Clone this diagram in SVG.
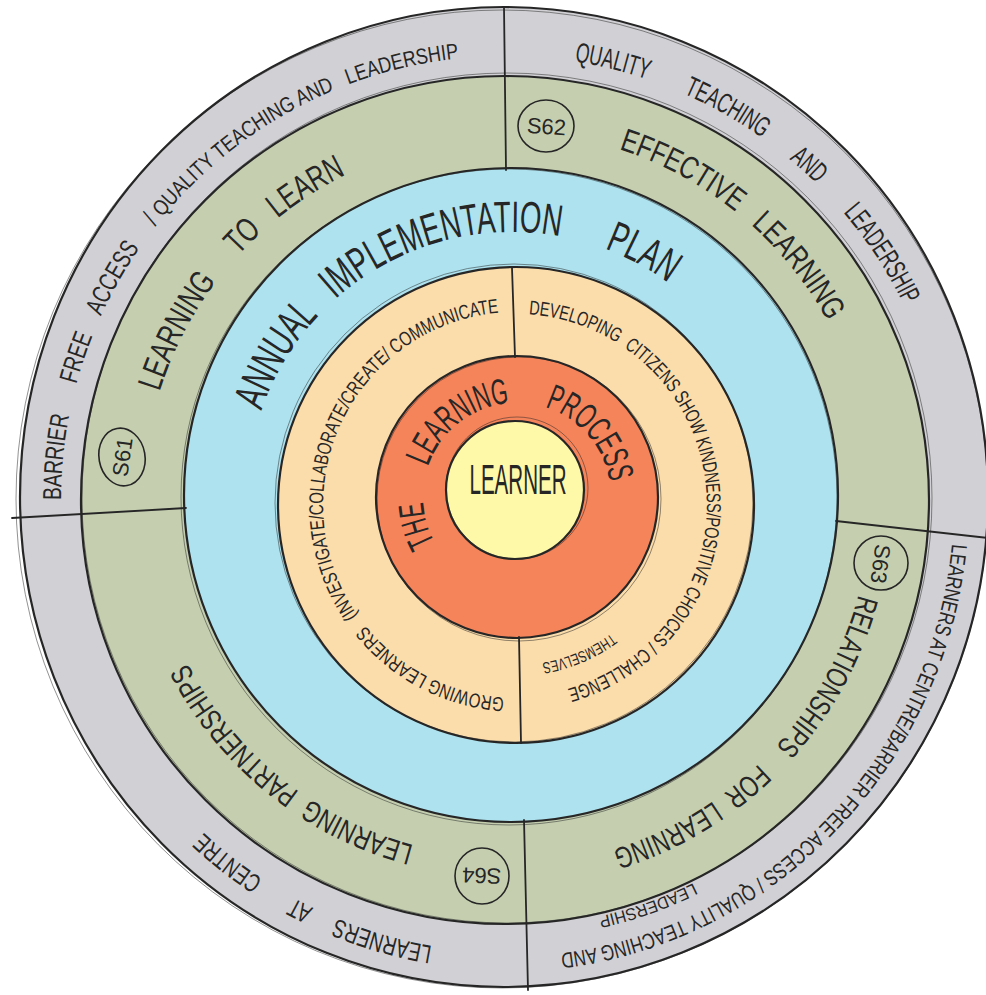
<svg xmlns="http://www.w3.org/2000/svg" xmlns:xlink="http://www.w3.org/1999/xlink" width="986" height="995" viewBox="0 0 986 995">
  <style>
    .ring { stroke: #262626; stroke-width: 2.2; }
    .sketch { fill: none; stroke: #262626; stroke-width: 1; opacity: 0.5; }
    .div { stroke: #262626; stroke-width: 1.8; fill: none; stroke-linecap: round; }
    .lbl { font-family: "Liberation Sans", Arial, sans-serif; fill: #262626; }
    .tag { fill: none; stroke: #262626; stroke-width: 1.6; }
  </style>
  <defs>
    <!-- baselines for the curved labels (clockwise arcs, letter tops face outward) -->
    <path id="p-g-tl-a" d="M61,500 A444,444 0 0 1 160,220.6"/>
    <path id="p-g-tl-b" d="M162.4,217.6 A444,444 0 0 1 458.6,58.4"/>
    <path id="p-g-tr" d="M574.4,61.5 A444,444 0 0 1 904.1,305.4"/>
    <path id="p-g-br" d="M951.9,543.8 A449,457 0 0 1 559.7,953.6"/>
    <path id="p-g-br2" d="M693.5,883.1 A427,427 0 0 1 597.4,916.9"/>
    <path id="p-g-bl" d="M432.3,945.9 A445,452 0 0 1 203.8,832.7"/>
    <path id="p-s-tl" d="M159.6,391.8 A362,362 0 0 1 346.3,174.6"/>
    <path id="p-s-tr" d="M619,149 A369,369 0 0 1 827.7,321.1"/>
    <path id="p-s-br" d="M858.5,594.7 A366,366 0 0 1 612,850"/>
    <path id="p-s-bl" d="M413.8,845.1 A357,357 0 0 1 187.5,663.2"/>
    <path id="p-aip" d="M261.4,410.7 A265,265 0 0 1 667.8,282.6"/>
    <path id="p-pw-l" d="M504.2,697.6 A193,193 0 0 1 499.2,312.7"/>
    <path id="p-pw-r" d="M528.7,314.4 A191,191 0 0 1 567,689"/>
    <path id="p-pw-r2" d="M611.4,633.4 A160,160 0 0 1 542.1,662.9"/>
    <path id="p-lp" d="M434.8,542.6 A94,94 0 1 1 609.8,482.3"/>
  </defs>

  <rect width="986" height="995" fill="#ffffff"/>

  <!-- outer ring: school-wide priorities -->
  <g id="ring-priorities">
    <ellipse class="ring" cx="504" cy="497" rx="484" ry="490" fill="#d1d1d5"/>
    <ellipse class="sketch" cx="502" cy="499" rx="486" ry="489"/>
  </g>

  <!-- strategic goals ring -->
  <g id="ring-goals">
    <circle class="ring" cx="505" cy="500" r="424" fill="#c5cfb0"/>
    <circle class="sketch" cx="507" cy="498" r="425"/>
  </g>

  <!-- annual implementation plan ring -->
  <g id="ring-aip">
    <circle class="ring" cx="511" cy="495" r="327" fill="#ade2ee"/>
    <circle class="sketch" cx="509" cy="497" r="328"/>
  </g>

  <!-- learner pathways ring -->
  <g id="ring-pathways">
    <circle class="ring" cx="516" cy="505" r="238" fill="#fbdcab"/>
    <circle class="sketch" cx="514" cy="503" r="239"/>
  </g>

  <!-- learning process ring -->
  <g id="ring-process">
    <circle class="ring" cx="517" cy="497" r="141" fill="#f6845a"/>
    <circle class="sketch" cx="519" cy="499" r="142"/>
  </g>

  <!-- centre -->
  <g id="node-learner">
    <circle class="ring" cx="515" cy="490" r="69" fill="#fdf9a9" stroke-width="2.6"/>
    <circle class="sketch" cx="517" cy="488" r="71"/>
    <text class="lbl" x="518" y="494" font-size="42" text-anchor="middle" textLength="97" lengthAdjust="spacingAndGlyphs">LEARNER</text>
  </g>

  <!-- sector dividers -->
  <g id="connectors">
    <line class="div" x1="504" y1="7" x2="506" y2="170"/>
    <line class="div" x1="12" y1="518" x2="186" y2="508"/>
    <line class="div" x1="836" y1="521" x2="988" y2="538"/>
    <line class="div" x1="524" y1="820" x2="528" y2="990"/>
    <line class="div" x1="512" y1="268" x2="515" y2="357"/>
    <line class="div" x1="519" y1="637" x2="521" y2="743"/>
  </g>

  <!-- outer ring labels -->
  <g id="label-priorities">
    <text class="lbl" font-size="26"><textPath href="#p-g-tl-a" textLength="300" lengthAdjust="spacingAndGlyphs">BARRIER&#160;&#160;&#160;&#160;&#160;&#160;FREE&#160;&#160;&#160;&#160;ACCESS&#160;&#160;&#160;&#160;&#160;/</textPath></text>
    <text class="lbl" font-size="22"><textPath href="#p-g-tl-b" textLength="345" lengthAdjust="spacingAndGlyphs">QUALITY TEACHING AND&#160;&#160;&#160;LEADERSHIP</textPath></text>
    <text class="lbl" font-size="28"><textPath href="#p-g-tr" textLength="426" lengthAdjust="spacingAndGlyphs">QUALITY&#160;&#160;&#160;&#160;&#160;&#160;&#160;&#160;TEACHING&#160;&#160;&#160;&#160;&#160;&#160;&#160;AND&#160;&#160;&#160;&#160;&#160;&#160;&#160;&#160;LEADERSHIP</textPath></text>
    <text class="lbl" font-size="22"><textPath href="#p-g-br" textLength="612" lengthAdjust="spacingAndGlyphs">LEARNERS AT CENTRE/BARRIER FREE ACCESS / QUALITY TEACHING AND</textPath></text>
    <text class="lbl" font-size="17"><textPath href="#p-g-br2" textLength="101" lengthAdjust="spacingAndGlyphs">LEADERSHIP</textPath></text>
    <text class="lbl" font-size="26"><textPath href="#p-g-bl" textLength="259" lengthAdjust="spacingAndGlyphs">LEARNERS&#160;&#160;&#160;&#160;&#160;AT&#160;&#160;&#160;&#160;&#160;&#160;&#160;CENTRE</textPath></text>
  </g>

  <!-- strategic goal labels -->
  <g id="goal-sg1">
    <text class="lbl" font-size="34"><textPath href="#p-s-tl" textLength="294" lengthAdjust="spacingAndGlyphs">LEARNING&#160;&#160;&#160;&#160;&#160;TO&#160;&#160;&#160;LEARN</textPath></text>
    <ellipse class="tag" cx="122" cy="457" rx="23" ry="29" transform="rotate(-10 122 457)"/>
    <text class="lbl" font-size="22" text-anchor="middle" transform="translate(130 458) rotate(-82)" x="0" y="0">S61</text>
  </g>
  <g id="goal-sg2">
    <text class="lbl" font-size="32"><textPath href="#p-s-tr" textLength="277" lengthAdjust="spacingAndGlyphs">EFFECTIVE&#160;&#160;&#160;LEARNING</textPath></text>
    <ellipse class="tag" cx="546" cy="126" rx="28" ry="26"/>
    <text class="lbl" font-size="22" text-anchor="middle" transform="translate(546 134) rotate(4)">S62</text>
  </g>
  <g id="goal-sg3">
    <text class="lbl" font-size="30"><textPath href="#p-s-br" textLength="370" lengthAdjust="spacingAndGlyphs">RELATIONSHIPS&#160;&#160;&#160;&#160;FOR&#160;&#160;LEARNING</textPath></text>
    <ellipse class="tag" cx="881" cy="563" rx="27" ry="27"/>
    <text class="lbl" font-size="22" text-anchor="middle" transform="translate(873 563) rotate(97)">S63</text>
  </g>
  <g id="goal-sg4">
    <text class="lbl" font-size="30"><textPath href="#p-s-bl" textLength="299" lengthAdjust="spacingAndGlyphs">LEARNING&#160;&#160;PARTNERSHIPS</textPath></text>
    <ellipse class="tag" cx="482" cy="876" rx="27" ry="28"/>
    <text class="lbl" font-size="22" text-anchor="middle" transform="translate(482 868) rotate(182)">S64</text>
  </g>

  <!-- annual implementation plan label -->
  <g id="label-aip">
    <text class="lbl" font-size="44"><textPath href="#p-aip" textLength="495" lengthAdjust="spacingAndGlyphs">ANNUAL&#160;&#160;&#160;IMPLEMENTATION&#160;&#160;&#160;&#160;&#160;&#160;PLAN</textPath></text>
  </g>

  <!-- learner pathway labels -->
  <g id="label-pathways">
    <text class="lbl" font-size="20"><textPath href="#p-pw-l" textLength="577" lengthAdjust="spacingAndGlyphs">GROWING LEARNERS&#160;&#160;&#160;(INVESTIGATE/COLLABORATE/CREATE/ COMMUNICATE</textPath></text>
    <text class="lbl" font-size="20"><textPath href="#p-pw-r" textLength="535" lengthAdjust="spacingAndGlyphs">DEVELOPING&#160;&#160;CITIZENS SHOW KINDNESS/POSITIVE CHOICES / CHALLENGE</textPath></text>
    <text class="lbl" font-size="16"><textPath href="#p-pw-r2" textLength="76" lengthAdjust="spacingAndGlyphs">THEMSELVES</textPath></text>
  </g>

  <!-- learning process label -->
  <g id="label-process">
    <text class="lbl" font-size="36"><textPath href="#p-lp" textLength="328" lengthAdjust="spacingAndGlyphs">THE&#160;&#160;&#160;&#160;&#160;&#160;LEARNING&#160;&#160;&#160;&#160;&#160;&#160;PROCESS</textPath></text>
  </g>
</svg>
